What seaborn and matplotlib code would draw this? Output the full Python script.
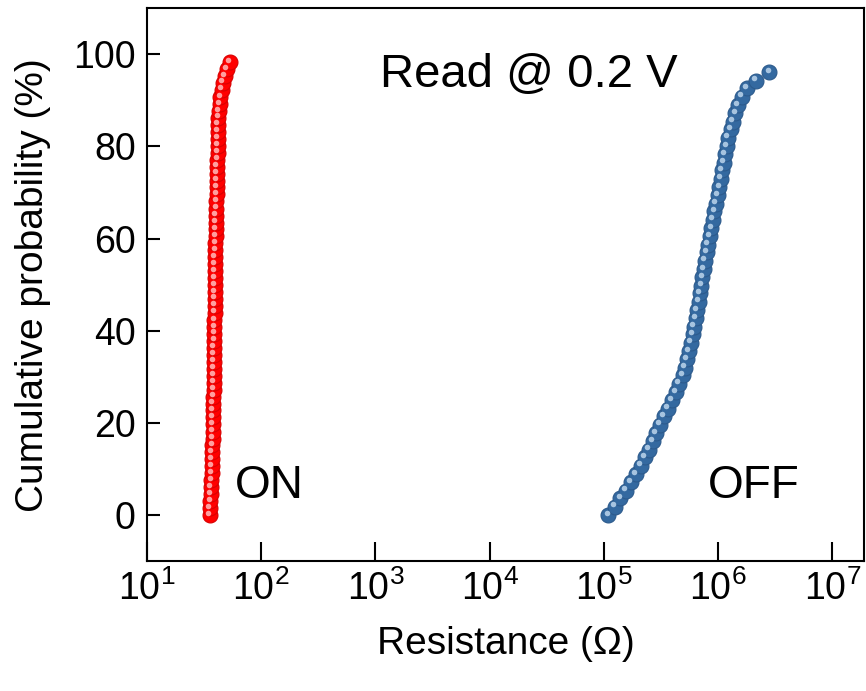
import numpy as np
import pandas as pd
import seaborn as sns
import matplotlib.pyplot as plt
from matplotlib.ticker import NullLocator
from matplotlib.transforms import offset_copy

# ON state (LRS) - cumulative probability (%) vs resistance (ohm)
on_prob = [0, 1.5, 3.0, 4.5, 6.0, 7.6, 9.1, 10.6, 12.1, 13.6, 15.1, 16.6, 18.1, 19.7,
           21.2, 22.7, 24.2, 25.7, 27.2, 28.7, 30.2, 31.8, 33.3, 34.8, 36.3, 37.8, 39.3,
           40.8, 42.3, 43.9, 45.4, 46.9, 48.4, 49.9, 51.4, 52.9, 54.4, 56.0, 57.5, 59.0,
           60.5, 62.0, 63.5, 65.0, 66.5, 68.1, 69.6, 71.1, 72.6, 74.1, 75.6, 77.1, 78.6,
           80.2, 81.7, 83.2, 84.7, 86.2, 87.7, 89.2, 90.7, 92.3, 93.8, 95.3, 96.8, 98.3]
on_res = [35.6, 35.8, 36.0, 36.2, 36.4, 36.6, 36.8, 36.9, 37.1, 37.3, 37.4, 37.5, 37.6, 37.7,
          37.8, 37.9, 38.1, 38.2, 38.4, 38.5, 38.6, 38.7, 38.7, 38.8, 38.8, 38.9, 38.9,
          39.0, 39.0, 39.1, 39.1, 39.2, 39.2, 39.3, 39.3, 39.4, 39.5, 39.6, 39.7, 39.8,
          40.0, 40.1, 40.2, 40.4, 40.5, 40.6, 40.8, 40.9, 41.0, 41.2, 41.3, 41.4, 41.5,
          41.6, 41.7, 41.8, 42.0, 42.3, 42.7, 43.2, 43.9, 45.0, 46.2, 48.0, 50.3, 53.2]

# OFF state (HRS)
off_prob = [0, 1.8, 3.6, 5.3, 7.1, 8.9, 10.7, 12.5, 14.2, 16.0, 17.8, 19.6, 21.4, 23.1,
            24.9, 26.7, 28.5, 30.3, 32.0, 33.8, 35.6, 37.4, 39.2, 40.9, 42.7, 44.5, 46.3,
            48.1, 49.8, 51.6, 53.4, 55.2, 57.0, 58.7, 60.5, 62.3, 64.1, 65.9, 67.6, 69.4,
            71.2, 73.0, 74.8, 76.5, 78.3, 80.1, 81.9, 83.7, 85.4, 87.2, 89.0, 90.8, 92.6,
            94.3, 96.1]
off_res_e5 = [1.10, 1.25, 1.40, 1.57, 1.73, 1.90, 2.12, 2.30, 2.48, 2.68, 2.88, 3.10, 3.38, 3.65,
              3.98, 4.25, 4.58, 4.90, 5.12, 5.36, 5.58, 5.80, 6.02, 6.20, 6.38, 6.58, 6.76,
              6.95, 7.15, 7.32, 7.48, 7.65, 7.95, 8.22, 8.50, 8.75, 9.00, 9.30, 9.65, 10.0,
              10.3, 10.6, 10.9, 11.2, 11.5, 11.9, 12.3, 12.9, 13.5, 14.2, 15.0, 16.2, 18.0,
              21.5, 28.2]

xtick_vals = [1e1, 1e2, 1e3, 1e4, 1e5, 1e6, 1e7]
xtick_labels = ['$10^{1}$', '$10^{2}$', '$10^{3}$', '$10^{4}$', '$10^{5}$', '$10^{6}$', '$10^{7}$']
ytick_vals = [0, 20, 40, 60, 80, 100]

df_on = pd.DataFrame({'res': on_res, 'prob': on_prob})
df_off = pd.DataFrame({'res': np.array(off_res_e5) * 1e5, 'prob': off_prob})

sns.set_style('ticks')
plt.rcParams['font.family'] = ['Liberation Sans', 'DejaVu Sans']
plt.rcParams['mathtext.fontset'] = 'custom'
plt.rcParams['mathtext.rm'] = 'Liberation Sans'
plt.rcParams['mathtext.it'] = 'Liberation Sans:italic'
plt.rcParams['mathtext.bf'] = 'Liberation Sans:bold'
plt.rcParams['text.color'] = 'black'
plt.rcParams['axes.labelcolor'] = 'black'

fig, ax = plt.subplots(figsize=(8.66, 6.91), dpi=100)
fig.subplots_adjust(left=0.1697, right=0.9977, bottom=0.188, top=0.988)

sns.scatterplot(data=df_on, x='res', y='prob', ax=ax, color='#ff0000', s=115,
                edgecolor='#d80000', linewidth=0.8, zorder=3)
sns.scatterplot(data=df_off, x='res', y='prob', ax=ax, color='#3469a0', s=115,
                edgecolor='#2c5a8c', linewidth=0.8, zorder=3)

# small light spots to fake the shaded "bead" look
shine = offset_copy(ax.transData, fig=fig, x=-1.3, y=1.8, units='points')
ax.scatter(df_on['res'], df_on['prob'], s=16, color='#ffb0b0', linewidth=0,
           alpha=0.9, transform=shine, zorder=4)
ax.scatter(df_off['res'], df_off['prob'], s=16, color='#b4cfe8', linewidth=0,
           alpha=0.9, transform=shine, zorder=4)

ax.set_xscale('log')
ax.set_xlim(10, 1.9e7)
ax.set_ylim(-10, 110)
ax.set_xticks(xtick_vals)
ax.set_xticklabels(xtick_labels)
ax.xaxis.set_minor_locator(NullLocator())
ax.set_yticks(ytick_vals)

ax.tick_params(axis='both', direction='in', width=1.5, labelsize=27,
               colors='black', labelcolor='black')
ax.tick_params(axis='x', length=14, pad=7)
ax.tick_params(axis='y', length=9, pad=8)
for sp in ax.spines.values():
    sp.set_visible(True)
    sp.set_linewidth(1.5)
    sp.set_color('black')

ax.set_xlabel('Resistance (\u03a9)', fontsize=28, labelpad=13, color='black')
ax.set_ylabel('Cumulative probability (%)', fontsize=28, labelpad=16, color='black')

ax.text(0.533, 0.879, 'Read @ 0.2 V', transform=ax.transAxes, fontsize=34,
        ha='center', va='center', color='black')
ax.text(0.123, 0.136, 'ON', transform=ax.transAxes, fontsize=33, ha='left',
        va='center', color='black')
ax.text(0.782, 0.136, 'OFF', transform=ax.transAxes, fontsize=33, ha='left',
        va='center', color='black')

ax.grid(False)
plt.savefig('out.png', dpi=100)
